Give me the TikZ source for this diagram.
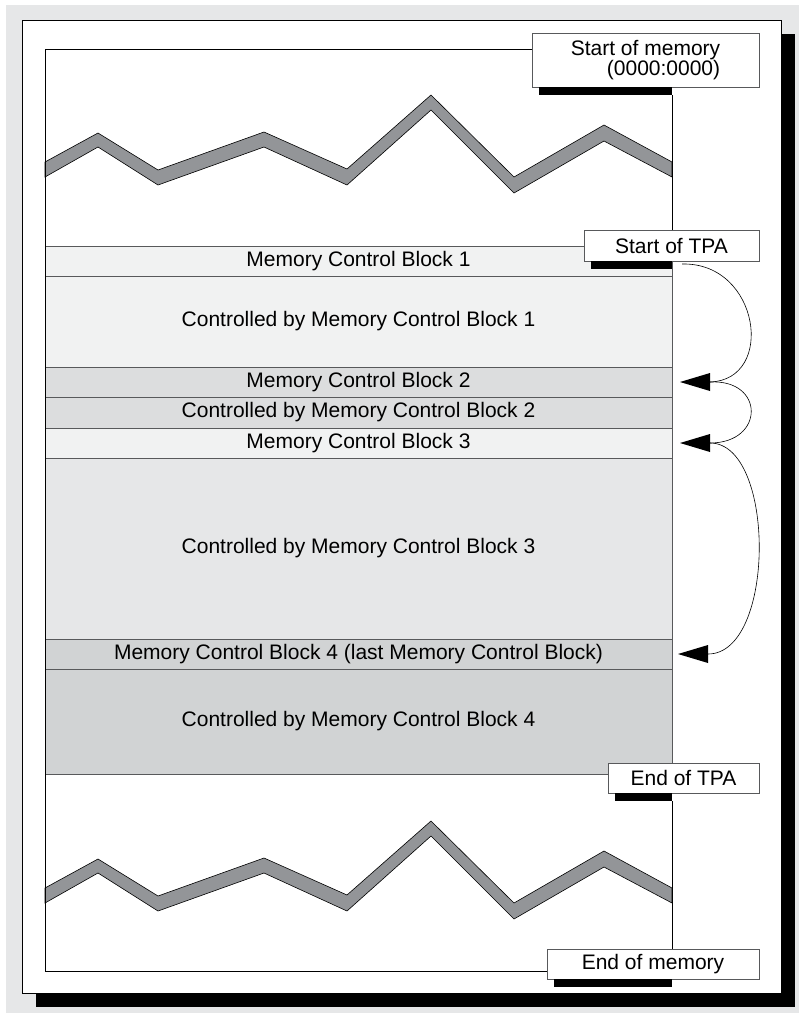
\documentclass[tikz,border=0pt]{standalone}
\usepackage{fontspec}
\setmainfont{Liberation Sans}
\usepackage{xcolor}
\usepackage{tikz}
\usetikzlibrary{positioning}

\definecolor{panel}{HTML}{E6E7E8}
\definecolor{rowline}{HTML}{58595B}
\definecolor{zigfill}{HTML}{939598}
\definecolor{shadeA}{HTML}{F1F2F2}
\definecolor{shadeB}{HTML}{DCDDDE}
\definecolor{shadeC}{HTML}{E6E7E8}
\definecolor{shadeD}{HTML}{D1D3D4}

\begin{document}
\begin{tikzpicture}[
    x=1pt, y=-1pt,
    font=\fontsize{21}{20}\selectfont,
    block/.style={draw=rowline, line width=0.8pt, minimum width=627pt, inner sep=0pt, outer sep=0pt},
    tag/.style={draw=rowline, fill=white, line width=0.8pt, inner sep=0pt, outer sep=0pt, minimum height=30pt},
    edge/.style={draw=black, line width=0.8pt},
    link/.style={line width=0.6pt},
    zig/.style={fill=zigfill, draw=black, line width=0.6pt}
  ]
    \useasboundingbox (0,0) rectangle (799,1013);
    \fill[panel] (6,5) rectangle (799,1013);
    % page with its shadow
    \fill[black] (36,34) rectangle (795,1007);
    \draw[fill=white, line width=0.8pt] (22,20) rectangle (781,993);

    % the blocks of the TPA
    \node[block, fill=shadeA, minimum height=30pt, anchor=north west] (mcb1) at (45,246) {Memory Control Block 1};
    \node[block, fill=shadeA, minimum height=91pt, below=0pt of mcb1] (ctl1) {Controlled by Memory Control Block 1};
    \node[block, fill=shadeB, minimum height=30pt, below=0pt of ctl1] (mcb2) {Memory Control Block 2};
    \node[block, fill=shadeB, minimum height=31pt, below=0pt of mcb2] (ctl2) {Controlled by Memory Control Block 2};
    \node[block, fill=shadeA, minimum height=30pt, below=0pt of ctl2] (mcb3) {Memory Control Block 3};
    \node[block, fill=shadeC, minimum height=181pt, below=0pt of mcb3] (ctl3) {Controlled by Memory Control Block 3};
    \node[block, fill=shadeD, minimum height=30pt, below=0pt of ctl3] (mcb4) {Memory Control Block 4 (last Memory Control Block)};
    \node[block, fill=shadeD, minimum height=105pt, below=0pt of mcb4] (ctl4) {Controlled by Memory Control Block 4};

    % torn edges
    \foreach \dy in {0,726} {
      \draw[zig, yshift=-\dy pt] (45,162) -- (98,133) -- (158,170) -- (264,132) -- (347,169) -- (431,95)
        -- (514,177) -- (604,125) -- (672,162) -- (672,177) -- (604,141) -- (514,193) -- (431,110)
        -- (347,185) -- (264,147) -- (158,185) -- (98,147) -- (45,177) -- cycle;
    }

    % labels
    \node[tag, minimum width=227pt, minimum height=54pt, align=right] (smem) at (645.5,60) {Start of memory\\(0000:0000)};
    \node[tag, minimum width=175pt, minimum height=31pt] (stpa) at (671.5,245.5) {Start of TPA};
    \node[tag, minimum width=151pt] (etpa) at (683.5,778) {End of TPA};
    \node[tag, minimum width=212pt] (emem) at (653,964) {End of memory};
    \foreach \lbl in {smem,stpa,etpa,emem}
      \fill ([xshift=7pt]\lbl.south west) rectangle ([yshift=-8pt]\lbl.south -| mcb1.east);

    % outline of memory
    \coordinate (memtl) at (45,49);
    \coordinate (membl) at (45,971);
    \draw[edge] (membl -| emem.west) -- (membl) -- (memtl) -- (memtl -| smem.west);
    \draw[edge] ([yshift=-8pt]smem.south -| mcb1.east) -- (stpa.north -| mcb1.east);
    \draw[edge] ([yshift=-8pt]etpa.south -| mcb1.east) -- (emem.north -| mcb1.east);

    % chain of control blocks
    \coordinate (loopstart) at (682,264);
    \coordinate (tip2) at ([xshift=8pt]mcb2.east);
    \coordinate (tip3) at ([xshift=8pt]mcb3.east);
    \coordinate (tip4) at ([xshift=6pt]mcb4.east);
    \foreach \t in {tip2,tip3,tip4} {
      \fill (\t) -- ++(30,-9) -- ++(0,18) -- cycle;
      \coordinate (base-\t) at ([xshift=30pt]\t);
    }
    \draw[link] (loopstart) .. controls +(78,-2) and +(66,-2) .. (base-tip2);
    \draw[link] (base-tip2) .. controls +(55,-3) and +(55,0) .. (base-tip3);
    \draw[link] (base-tip3) .. controls +(66,0) and +(68,0) .. (base-tip4);
  \end{tikzpicture}
\end{document}
